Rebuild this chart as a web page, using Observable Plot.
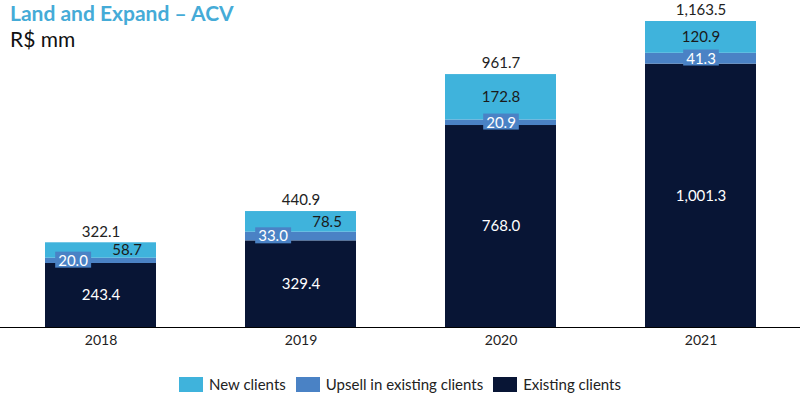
<!DOCTYPE html>
<html>
<head>
<meta charset="utf-8">
<script src="https://cdn.jsdelivr.net/npm/d3@7"></script>
<script src="https://cdn.jsdelivr.net/npm/@observablehq/plot@0.6"></script>
<style>
  body { margin: 0; background: #fff; font-family: Lato, "Open Sans", sans-serif; }
  #wrap { position: relative; width: 800px; height: 393px; overflow: hidden; }
  #chart { position: absolute; left: 0; top: 0; }
  #title { position: absolute; left: 10px; top: 1px; font-size: 21px; font-weight: bold; color: #45abd7; line-height: 24px; }
  #subtitle { position: absolute; left: 10px; top: 27px; font-size: 21px; color: #111; line-height: 24px; }
  #legend { position: absolute; left: 0; top: 375px; width: 800px; display: flex; justify-content: center; align-items: center; font-size: 15px; color: #222; }
  .item { display: flex; align-items: center; margin: 0 5px; }
  .sw { width: 24px; height: 15px; margin-right: 6px; }
</style>
</head>
<body>
<div id="wrap">
  <div id="chart"></div>
  <div id="title">Land and Expand – ACV</div>
  <div id="subtitle">R$ mm</div>
  <div id="legend"></div>
</div>
<script>
const years = ["2018", "2019", "2020", "2021"];
const existingClients = [243.4, 329.4, 768.0, 1001.3];
const upsellClients = [20.0, 33.0, 20.9, 41.3];
const newClients = [58.7, 78.5, 172.8, 120.9];
const totals = [322.1, 440.9, 961.7, 1163.5];
const seriesNames = ["Existing clients", "Upsell in existing clients", "New clients"];
const legendOrder = ["New clients", "Upsell in existing clients", "Existing clients"];
const seriesColors = ["#081535", "#4a82c5", "#3fb3dc"];

const fmt = d3.format(",.1f");
const rows = [];
years.forEach((y, i) => {
  rows.push({year: y, series: seriesNames[0], value: existingClients[i]});
  rows.push({year: y, series: seriesNames[1], value: upsellClients[i]});
  rows.push({year: y, series: seriesNames[2], value: newClients[i]});
});
const labels = years.map((y, i) => ({
  year: y,
  e: existingClients[i], u: upsellClients[i], n: newClients[i], t: totals[i],
  eMid: existingClients[i] / 2,
  uMid: existingClients[i] + upsellClients[i] / 2,
  nMid: existingClients[i] + upsellClients[i] + newClients[i] / 2,
  small: newClients[i] < 100
}));
const smallL = labels.filter(d => d.small);
const bigL = labels.filter(d => !d.small);

const plot = Plot.plot({
  width: 800, height: 360,
  marginLeft: 0, marginRight: 0, marginTop: 21, marginBottom: 33,
  x: {domain: years, paddingInner: 0.445, paddingOuter: 0.2225, label: null},
  y: {domain: [0, 1163.5], axis: null},
  color: {domain: seriesNames, range: seriesColors},
  style: {fontFamily: "Lato, 'Open Sans', sans-serif", fontSize: "15px", color: "#222", overflow: "visible"},
  marks: [
    Plot.barY(rows, {x: "year", y: "value", fill: "series"}),
    Plot.ruleY([0], {stroke: "#000", strokeWidth: 1}),
    Plot.axisX({tickSize: 0, tickPadding: 8, fontSize: 14, label: null, fill: "#222"}),
    Plot.text(labels, {x: "year", y: "t", text: d => fmt(d.t), dy: -11, fill: "#222", fontSize: 15}),
    Plot.text(labels, {x: "year", y: "eMid", text: d => fmt(d.e), fill: "#fff", fontSize: 15}),
    Plot.text(smallL, {x: "year", y: "nMid", text: d => fmt(d.n), dx: 26, fill: "#1a1a1a", fontSize: 15}),
    Plot.text(bigL, {x: "year", y: "nMid", text: d => fmt(d.n), fill: "#1a1a1a", fontSize: 15}),
    Plot.text(smallL, {x: "year", y: "uMid", text: d => fmt(d.u), dx: -28, fill: "#fff", fontSize: 15, ariaDescription: "upsell-label"}),
    Plot.text(bigL, {x: "year", y: "uMid", text: d => fmt(d.u), fill: "#fff", fontSize: 15, ariaDescription: "upsell-label"})
  ]
});
document.getElementById("chart").appendChild(plot);

// background boxes behind upsell labels
plot.querySelectorAll('g[aria-description="upsell-label"]').forEach(g => {
  g.querySelectorAll("text").forEach(t => {
    const b = t.getBBox();
    const r = document.createElementNS("http://www.w3.org/2000/svg", "rect");
    r.setAttribute("x", b.x - 3);
    r.setAttribute("y", b.y + 1);
    r.setAttribute("width", b.width + 6);
    r.setAttribute("height", b.height - 2);
    r.setAttribute("fill", seriesColors[1]);
    const tr = t.getAttribute("transform");
    if (tr) r.setAttribute("transform", tr);
    t.parentNode.insertBefore(r, t);
  });
});

const legend = document.getElementById("legend");
legendOrder.forEach(name => {
  const it = document.createElement("div");
  it.className = "item";
  const sw = document.createElement("div");
  sw.className = "sw";
  sw.style.background = seriesColors[seriesNames.indexOf(name)];
  const lb = document.createElement("span");
  lb.textContent = name;
  it.appendChild(sw); it.appendChild(lb);
  legend.appendChild(it);
});
</script>
</body>
</html>
